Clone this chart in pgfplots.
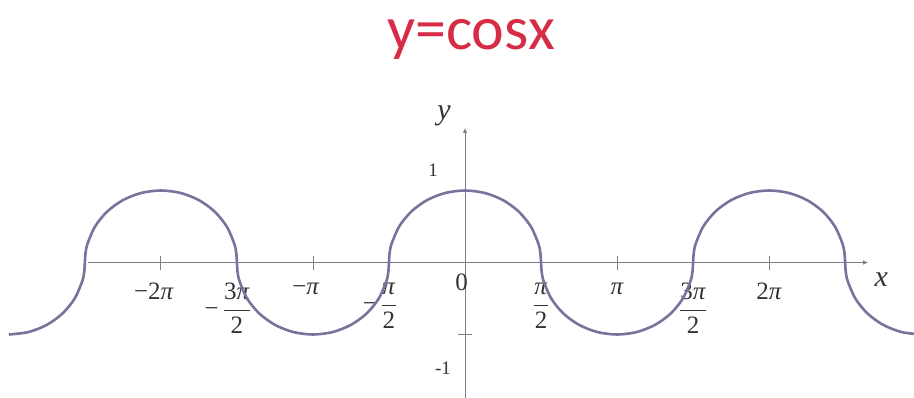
\documentclass[border=0pt]{standalone}
\usepackage{fontspec}
\setmainfont{Liberation Serif}
\newfontfamily\titlefont{Carlito}
\usepackage{pgfplots}
\pgfplotsset{compat=1.18}
\usetikzlibrary{arrows.meta}

\definecolor{titlered}{RGB}{214,44,70}
\definecolor{curveblue}{RGB}{116,116,156}
\definecolor{axisgray}{RGB}{125,125,135}

% fraction tick labels: numerator over denominator, minus hanging to the left
\newcommand{\fr}[2]{$\displaystyle\frac{\hbox{#1}}{\hbox{#2}}$}
\newcommand{\nfr}[2]{\llap{−\,}\fr{#1}{#2}}

\begin{document}
\begin{tikzpicture}
\useasboundingbox (0,0) rectangle (914pt,397pt);

\node[font=\titlefont\fontsize{62}{62}\selectfont, text=titlered, anchor=base]
  at (471pt,347pt) {y=cosx};

\begin{axis}[
  at={(465pt,134.5pt)}, anchor=origin,
  x=48.4pt, y=72pt,
  axis lines=middle,
  clip=false,
  xmin=-7.79, xmax=8.33,
  ymin=-2.0, ymax=1.87,
  axis line style={draw=axisgray, line width=1pt, -{Latex[length=5pt,width=4.5pt]}},
  tick style={draw=axisgray, line width=0.8pt},
  tick align=center,
  major tick length=14pt,
  xtick={-6.2832,-4.7124,-3.1416,-1.5708,1.5708,3.1416,4.7124,6.2832},
  xticklabels={
    {\llap{−}2\textit{π}},
    {\nfr{3\textit{π}}{2}},
    {\llap{−}\textit{π}},
    {\nfr{\textit{π}}{2}},
    {\fr{\textit{π}}{2}},
    {\textit{π}},
    {\fr{3\textit{π}}{2}},
    {2\textit{π}}},
  xticklabel style={anchor=north, yshift=-10pt, text=black!80,
    font=\fontsize{25}{28}\selectfont},
  ytick={-1},
  yticklabels={},
]

% y = cos x, drawn as a chain of half-arches between the zeros
\addplot[curveblue, line width=2.6pt, smooth] coordinates {
  (-9.4248,-1) (-9.0182,-0.9659) (-8.6394,-0.8660) (-8.3141,-0.7071)
  (-8.0645,-0.5) (-7.9075,-0.2588) (-7.8674,-0.1305) (-7.8540,0)
  (-7.8406,0.1305) (-7.8005,0.2588) (-7.6435,0.5) (-7.3939,0.7071)
  (-7.0686,0.8660) (-6.6898,0.9659) (-6.2832,1) (-5.8766,0.9659)
  (-5.4978,0.8660) (-5.1725,0.7071) (-4.9229,0.5) (-4.7659,0.2588)
  (-4.7258,0.1305) (-4.7124,0)
  (-4.6990,-0.1305) (-4.6589,-0.2588) (-4.5019,-0.5) (-4.2523,-0.7071)
  (-3.9270,-0.8660) (-3.5482,-0.9659) (-3.1416,-1) (-2.7350,-0.9659)
  (-2.3562,-0.8660) (-2.0309,-0.7071) (-1.7813,-0.5) (-1.6243,-0.2588)
  (-1.5842,-0.1305) (-1.5708,0)
  (-1.5574,0.1305) (-1.5173,0.2588) (-1.3603,0.5) (-1.1107,0.7071)
  (-0.7854,0.8660) (-0.4066,0.9659) (0,1) (0.4066,0.9659)
  (0.7854,0.8660) (1.1107,0.7071) (1.3603,0.5) (1.5173,0.2588)
  (1.5574,0.1305) (1.5708,0)
  (1.5842,-0.1305) (1.6243,-0.2588) (1.7813,-0.5) (2.0309,-0.7071)
  (2.3562,-0.8660) (2.7350,-0.9659) (3.1416,-1) (3.5482,-0.9659)
  (3.9270,-0.8660) (4.2523,-0.7071) (4.5019,-0.5) (4.6589,-0.2588)
  (4.6990,-0.1305) (4.7124,0)
  (4.7258,0.1305) (4.7659,0.2588) (4.9229,0.5) (5.1725,0.7071)
  (5.4978,0.8660) (5.8766,0.9659) (6.2832,1) (6.6898,0.9659)
  (7.0686,0.8660) (7.3939,0.7071) (7.6435,0.5) (7.8005,0.2588)
  (7.8406,0.1305) (7.8540,0)
  (7.8674,-0.1305) (7.9075,-0.2588) (8.0645,-0.5) (8.3141,-0.7071)
  (8.6394,-0.8660) (9.0182,-0.9659) (9.4248,-1)
};

% origin and y-axis values
\node[font=\fontsize{25}{28}\selectfont, text=black!80, anchor=north east, inner sep=0pt]
  at (axis cs:0,0) [xshift=3pt, yshift=-11pt] {0};
\node[font=\fontsize{19}{21}\selectfont, text=black!80, anchor=center]
  at (axis cs:0,1) [xshift=-32pt, yshift=20pt] {1};
\node[font=\fontsize{19}{21}\selectfont, text=black!80, anchor=center]
  at (axis cs:0,-1) [xshift=-22pt, yshift=-34pt] {-1};

% axis names
\node[font=\fontsize{30}{32}\selectfont\itshape, text=black!80, anchor=center]
  at (axis cs:8.33,0) [xshift=13pt, yshift=-17pt] {x};
\node[font=\fontsize{30}{32}\selectfont\itshape, text=black!80, anchor=center]
  at (axis cs:0,1.87) [xshift=-21pt, yshift=12pt] {y};
\end{axis}
\end{tikzpicture}
\end{document}
